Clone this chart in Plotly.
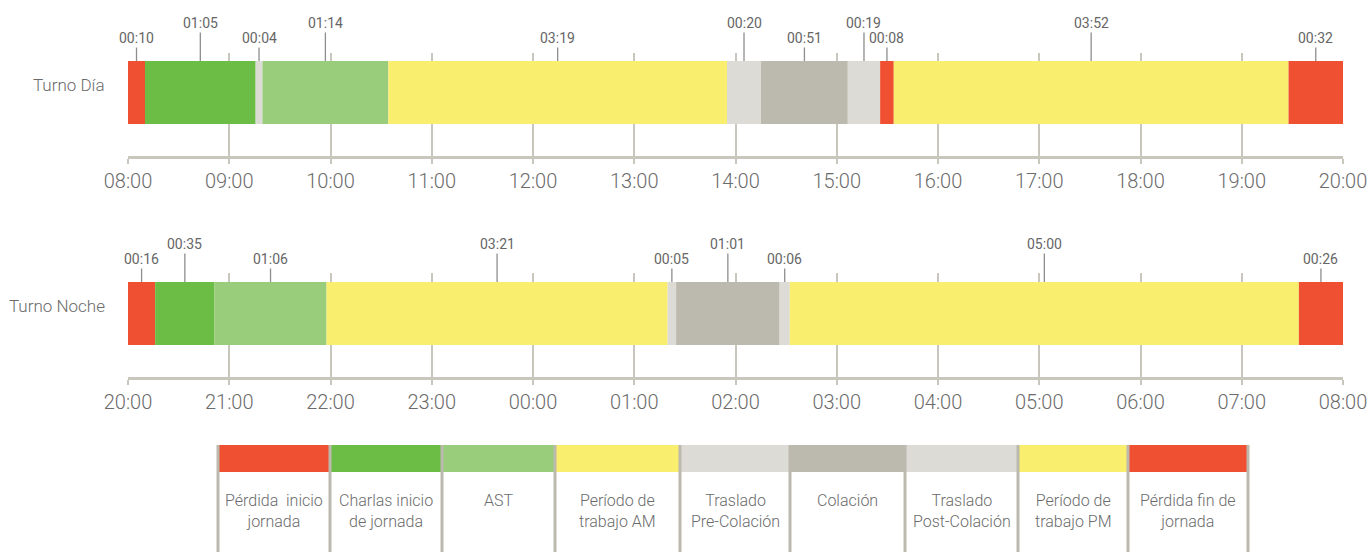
import plotly.graph_objects as go

# ---------------- data ----------------
shift_names = ["Turno Día", "Turno Noche"]

day_ticks = ["08:00", "09:00", "10:00", "11:00", "12:00", "13:00", "14:00",
             "15:00", "16:00", "17:00", "18:00", "19:00", "20:00"]
night_ticks = ["20:00", "21:00", "22:00", "23:00", "00:00", "01:00", "02:00",
               "03:00", "04:00", "05:00", "06:00", "07:00", "08:00"]

day_labels = ["00:10", "01:05", "00:04", "01:14", "03:19", "00:20", "00:51",
              "00:19", "00:08", "03:52", "00:32"]
day_kinds = ["perdida", "charlas", "traslado", "ast", "trabajo", "traslado",
             "colacion", "traslado", "perdida", "trabajo", "perdida"]

night_labels = ["00:16", "00:35", "01:06", "03:21", "00:05", "01:01", "00:06",
                "05:00", "00:26"]
night_kinds = ["perdida", "charlas", "ast", "trabajo", "traslado", "colacion",
               "traslado", "trabajo", "perdida"]

legend_labels = ["Pérdida\u00a0 inicio<br>jornada", "Charlas inicio<br>de jornada", "AST",
                 "Período de<br>trabajo AM", "Traslado<br>Pre-Colación", "Colación",
                 "Traslado<br>Post-Colación", "Período de<br>trabajo PM",
                 "Pérdida fin de<br>jornada"]
legend_kinds = ["perdida", "charlas", "ast", "trabajo", "traslado", "colacion",
                "traslado", "trabajo", "perdida"]

colors = {
    "perdida": "#ef5032",
    "charlas": "#6bbd45",
    "ast": "#99cd7b",
    "trabajo": "#f9ee6e",
    "traslado": "#dcdbd6",
    "colacion": "#bcb9ae",
}

SHIFT_MIN = 720  # a shift spans 12 hours

# ---------------- style ----------------
W, H = 1369, 552
FONT = "Roboto, Liberation Sans, sans-serif"
TXT = "#6b6b6b"
GRID = "#c9c6bd"


def px_x(p):
    return p / W


def px_y(p):
    return 1 - p / H


def to_min(s):
    h, m = s.split(":")
    return int(h) * 60 + int(m)


fig = go.Figure()

rows = [
    dict(labels=day_labels, kinds=day_kinds, ticks=day_ticks, xa="x", ya="y",
         dom=(53, 156), bar=(61, 124), name=shift_names[0], label_y=85),
    dict(labels=night_labels, kinds=night_kinds, ticks=night_ticks, xa="x2", ya="y2",
         dom=(273, 377), bar=(282, 345), name=shift_names[1], label_y=306),
]

annotations = []
shapes = []
layout_axes = {}

for i, r in enumerate(rows):
    mins = [to_min(s) for s in r["labels"]]
    scale = SHIFT_MIN / sum(mins)
    dtop, dbot = r["dom"]
    btop, bbot = r["bar"]
    hgt = dbot - dtop
    center = (dbot - (btop + bbot) / 2) / hgt
    bw = (bbot - btop) / hgt
    start = 0.0
    for lab, kind, m in zip(r["labels"], r["kinds"], mins):
        w = m * scale
        fig.add_trace(go.Bar(
            x=[w], y=[r["name"]], base=[start], orientation="h", width=[bw],
            marker=dict(color=colors[kind], line=dict(width=0)),
            xaxis=r["xa"], yaxis=r["ya"], showlegend=False,
            hovertemplate=f"{r['name']}<br>{lab}<extra></extra>",
        ))
        start += w
    # duration labels with leader lines
    start = 0.0
    for j, (lab, m) in enumerate(zip(r["labels"], mins)):
        w = m * scale
        annotations.append(dict(
            x=start + w / 2, y=bw / 2, xref=r["xa"], yref=r["ya"],
            text=lab, showarrow=True, arrowhead=0, arrowwidth=1.3,
            arrowcolor="#8e8e8e", ax=0, ay=-38 if j % 2 else -23, standoff=0,
            font=dict(family=FONT, size=14, color="#666666", weight=400),
        ))
        start += w
    # row label
    annotations.append(dict(
        x=px_x(107), y=px_y(r["label_y"]), xref="paper", yref="paper",
        xanchor="right", yanchor="middle", showarrow=False, text=r["name"],
        font=dict(family=FONT, size=17, color=TXT, weight=300),
    ))
    suffix = "" if i == 0 else "2"
    layout_axes["xaxis" + suffix] = dict(
        domain=[px_x(128), px_x(1343)], range=[0, SHIFT_MIN],
        anchor="y" + suffix, automargin=False,
        tickmode="array", tickvals=[k * 60 for k in range(len(r["ticks"]))],
        ticktext=r["ticks"],
        showgrid=True, gridcolor=GRID, gridwidth=1.5, zeroline=False,
        showline=True, linecolor=GRID, linewidth=3,
        ticks="outside", ticklen=5, tickwidth=1.5, tickcolor=GRID,
        tickfont=dict(family=FONT, size=20, color=TXT, weight=300),
        fixedrange=True,
    )
    layout_axes["yaxis" + suffix] = dict(
        domain=[px_y(dbot), px_y(dtop)], anchor="x" + suffix, automargin=False,
        type="category", range=[-center, 1 - center],
        showgrid=False, zeroline=False, showticklabels=False, showline=False,
        fixedrange=True,
    )

# ---------------- legend table ----------------
bounds = [218, 330, 442, 555, 680, 790, 905, 1018, 1128, 1248]
for k, (lab, kind) in enumerate(zip(legend_labels, legend_kinds)):
    x0, x1 = bounds[k], bounds[k + 1]
    shapes.append(dict(type="rect", xref="paper", yref="paper",
                       x0=px_x(x0), x1=px_x(x1), y0=px_y(472), y1=px_y(445),
                       fillcolor=colors[kind], line=dict(width=0), layer="below"))
    annotations.append(dict(
        x=px_x((x0 + x1) / 2), y=px_y(489), xref="paper", yref="paper",
        xanchor="center", yanchor="top", showarrow=False, text=lab, align="center",
        font=dict(family=FONT, size=16, color=TXT, weight=300),
    ))
for b in bounds:
    shapes.append(dict(type="line", xref="paper", yref="paper",
                       x0=px_x(b), x1=px_x(b), y0=px_y(552), y1=px_y(445),
                       line=dict(color="#bcb9ae", width=3)))

fig.update_layout(
    width=W, height=H, margin=dict(l=0, r=0, t=0, b=0, autoexpand=False),
    paper_bgcolor="white", plot_bgcolor="white",
    barmode="overlay", annotations=annotations, shapes=shapes,
    **layout_axes,
)

fig.write_html("out.html", config={"displayModeBar": False},
               post_script="document.body.style.margin='0';")
